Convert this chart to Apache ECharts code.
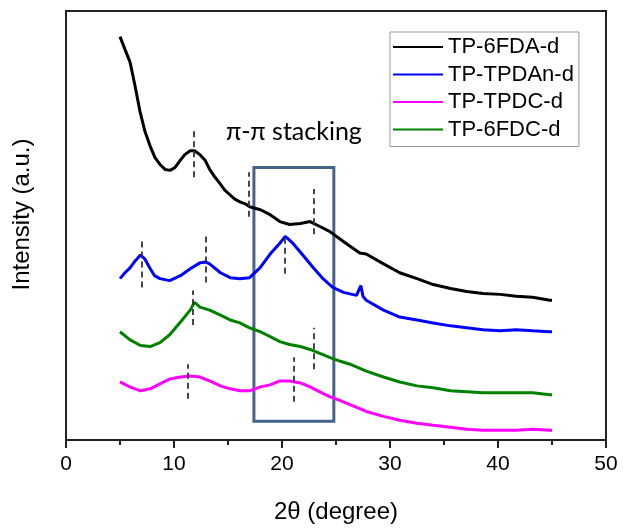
<!DOCTYPE html>
<html><head><meta charset="utf-8">
<script src="https://cdn.jsdelivr.net/npm/echarts@6/dist/echarts.min.js"></script>
<style>html,body{margin:0;padding:0;background:#fff}#c{width:623px;height:529px}</style>
</head><body><div id="c"></div>
<script>
// ---- data (intensity in arbitrary units) ----
const seriesNames = ['TP-6FDA-d', 'TP-TPDAn-d', 'TP-TPDC-d', 'TP-6FDC-d'];
const seriesColors = ['#000000', '#0000ff', '#ff00ff', '#008000'];

const x6FDA = [5.0,5.46,5.93,6.39,6.85,7.3,7.78,8.24,8.7,9.17,9.63,10.1,10.56,11.0,11.5,11.9,12.4,12.9,13.3,13.8,14.3,14.7,15.2,15.6,16.1,16.6,17.0,18.0,18.9,19.8,20.7,21.7,22.6,23.5,24.4,25.4,26.3,27.2,27.8,29.4,30.9,32.5,34.0,35.6,37.1,38.6,40.2,41.7,43.2,44.8,45.0];
const y6FDA = [410,397,384,360,334,314,299,287,280,275,274,277,284,290,294,294,290,284,275,267,260,254,249,245,242,240,237,234,229,222,219,220,222,217,212,204,197,190,189,179,170,164,158,154,151,149,148,146,145,142,142];

const xTPDAn = [5.0,5.46,5.93,6.4,6.9,7.3,7.8,8.2,8.7,9.6,10.6,11.5,12.4,12.9,13.3,14.3,15.2,16.1,17.0,17.96,18.9,19.8,20.3,21.0,22.0,22.9,23.8,24.7,25.7,26.9,27.3,27.5,27.8,29.4,30.9,32.5,34.0,35.6,37.1,38.6,40.2,41.7,43.2,44.8,45.0];
const yTPDAn = [164,170,175,182,188,184,174,167,164,162,167,174,180,181,179,170,165,164,165,175,189,200,207,200,187,175,164,155,150,147,157,146,142,132,125,122,119,116,114,112,111,112,111,110,110];

const xTPDC = [5.0,5.9,6.9,7.8,8.7,9.6,10.6,11.5,12.4,13.3,14.3,15.2,16.1,17.0,18.0,18.9,19.8,20.7,21.7,22.6,23.5,24.4,25.4,26.3,27.8,29.4,30.9,32.5,34.0,35.6,37.1,38.6,40.2,41.7,43.2,44.8,45.0];
const yTPDC = [59,54,50,52,57,62,64,65,64,60,55,52,50,50,54,56,60,60,58,54,49,44,40,36,29,24,20,17,15,13,11,10,10,10,11,10,10];

const x6FDC = [5.0,5.9,6.9,7.8,8.7,9.6,10.6,11.5,11.9,12.4,13.3,14.3,15.2,16.1,17.0,18.0,18.9,19.8,20.7,21.7,22.6,23.5,24.4,25.4,26.3,27.8,29.4,30.9,32.5,34.0,35.6,37.1,38.6,40.2,41.7,43.2,44.8,45.0];
const y6FDC = [110,102,96,95,99,107,120,132,140,135,132,127,122,119,114,110,105,100,97,95,92,88,84,80,77,70,64,59,55,53,50,49,48,48,48,48,46,46];

// dashed peak markers: x position, lower and upper intensity
const markX  = [11.8, 16.9, 22.9, 7.0, 12.9, 20.3, 11.7, 22.9, 11.3, 21.1];
const markY1 = [267, 227, 209, 155, 160, 169, 117, 72, 42, 39];
const markY2 = [315, 272, 255, 204, 208, 207, 152, 114, 77, 84];

// highlighted region (pi-pi stacking)
const boxX = [17.4, 24.8];
const boxY = [19, 277];
const boxLabel = 'π-π stacking';
const boxLabelPos = [21.1, 313];

const xTicks = [0, 10, 20, 30, 40, 50];

// ---- build ----
function pairs(xs, ys) { return xs.map((x, i) => [x, ys[i]]); }
const dataSets = [pairs(x6FDA, y6FDA), pairs(xTPDAn, yTPDAn), pairs(xTPDC, yTPDC), pairs(x6FDC, y6FDC)];

const series = seriesNames.map((n, i) => ({
  name: n, type: 'line', data: dataSets[i], symbol: 'none', showSymbol: false, smooth: false,
  lineStyle: { color: seriesColors[i], width: 3 }, itemStyle: { color: seriesColors[i] },
  animation: false, z: 2
}));

series.push({
  type: 'line', data: [], symbol: 'none', animation: false, silent: true, z: 5,
  markLine: {
    silent: true, symbol: ['none', 'none'], animation: false,
    lineStyle: { color: '#333', type: [6, 4], width: 1.8 },
    label: { show: false },
    data: markX.map((x, i) => [{ coord: [x, markY1[i]] }, { coord: [x, markY2[i]] }])
  },
  markArea: {
    silent: true, animation: false,
    itemStyle: { color: 'rgba(0,0,0,0)', borderColor: '#43628c', borderWidth: 3 },
    data: [[{ coord: [boxX[0], boxY[0]] }, { coord: [boxX[1], boxY[1]] }]]
  },
  markPoint: {
    silent: true, animation: false, symbol: 'circle', symbolSize: 0,
    label: { show: true, position: 'inside', formatter: boxLabel, color: '#000',
      fontFamily: 'Lato', fontSize: 25 },
    data: [{ coord: boxLabelPos }]
  }
});

const chart = echarts.init(document.getElementById('c'), null, { renderer: 'canvas' });
chart.setOption({
  animation: false,
  backgroundColor: '#fff',
  grid: { left: 66, right: 17, top: 11, bottom: 82, show: true, borderColor: '#222', borderWidth: 2 },
  legend: {
    data: seriesNames.map(n => ({ name: n, icon: 'rect' })), orient: 'vertical', left: 390, top: 32,
    itemWidth: 50, itemHeight: 2, itemGap: 5.5,
    padding: [4, 5, 6, 3],
    borderColor: '#999', borderWidth: 1,
    textStyle: { fontFamily: 'Liberation Sans, Arial', fontSize: 22, color: '#000', lineHeight: 22 }
  },
  xAxis: {
    type: 'value', min: 0, max: 50, interval: 10,
    name: '2θ (degree)', nameLocation: 'middle', nameGap: 60,
    nameTextStyle: { fontFamily: 'Liberation Sans, Arial', fontSize: 24, color: '#000' },
    axisLine: { show: true, lineStyle: { color: '#222', width: 2 } },
    axisTick: { show: true, inside: false, length: 8, lineStyle: { color: '#222', width: 2 } },
    minorTick: { show: true, splitNumber: 2, length: 5, lineStyle: { color: '#222', width: 2 } },
    axisLabel: { fontFamily: 'Liberation Sans, Arial', fontSize: 21, color: '#000', margin: 14,
      formatter: v => xTicks.includes(v) ? String(v) : '' },
    splitLine: { show: false }
  },
  yAxis: {
    type: 'value', min: 0, max: 436,
    name: 'Intensity (a.u.)', nameLocation: 'middle', nameGap: 32, nameRotate: 90,
    nameTextStyle: { fontFamily: 'Liberation Sans, Arial', fontSize: 24, color: '#000', padding: [0, 0, 0, 22] },
    axisLine: { show: true, lineStyle: { color: '#222', width: 2 } },
    axisTick: { show: false }, axisLabel: { show: false }, splitLine: { show: false }
  },
  series: series
});
</script>
</body></html>
